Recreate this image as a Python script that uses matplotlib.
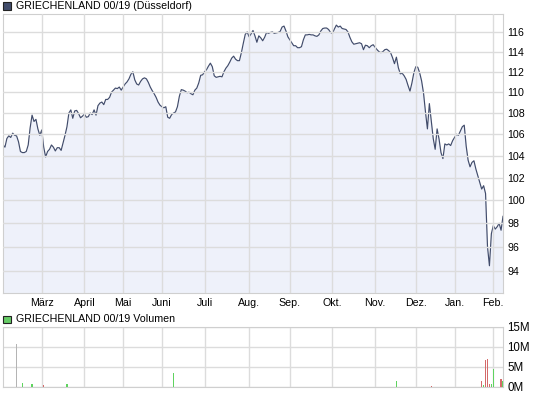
import numpy as np
import pandas as pd
import matplotlib
matplotlib.use("Agg")
import matplotlib.pyplot as plt
from matplotlib.patches import Rectangle
from matplotlib.ticker import FixedLocator, FixedFormatter, NullLocator

# trading days of the exchange (weekdays without the holidays)
holidays = ['2009-04-10', '2009-04-13', '2009-05-01', '2009-12-24',
            '2009-12-25', '2009-12-31', '2010-01-01']
days = pd.bdate_range('2009-02-02', '2010-02-08')
days = days[~days.isin(pd.to_datetime(holidays))]

# closing prices, one per trading day
price = [
    105.0, 104.8, 105.6, 105.85, 105.7, 106.1, 105.9, 105.85, 105.3, 104.4,
    104.3, 104.3, 104.4, 105.0, 106.6, 107.8, 107.2, 107.4, 106.5, 105.9,
    106.4, 104.8, 103.9, 104.4, 104.6, 105.0, 104.8, 104.45, 104.75, 104.75,
    104.5, 105.2, 105.9, 106.7, 108.0, 108.3, 107.5, 108.2, 108.25, 107.95,
    107.55, 107.7, 107.9, 107.6, 107.65, 108.0, 107.85, 108.3, 107.8, 108.7,
    108.95, 109.05, 108.8, 109.3, 109.3, 109.5, 110.0, 110.2, 110.4, 110.35,
    110.5, 110.2, 110.5, 110.8, 111.0, 111.3, 111.75, 112.0, 111.2, 110.8,
    110.7, 111.05, 111.3, 111.4, 111.3, 110.95, 110.5, 110.15, 109.85, 109.5,
    109.05, 108.75, 108.6, 108.5, 108.6, 107.6, 107.5, 107.85, 108.0, 108.1,
    108.6, 109.6, 110.25, 110.2, 110.1, 109.95, 110.0, 109.85, 109.75, 110.2,
    110.4, 110.9, 111.65, 111.7, 112.0, 112.2, 112.55, 112.85, 112.5, 111.6,
    111.45, 111.5, 111.55, 111.5, 112.0, 112.35, 112.6, 112.95, 113.35, 113.55,
    113.25, 113.1, 113.1, 113.9, 114.85, 115.75, 116.0, 115.5, 115.8, 116.15,
    115.6, 114.95, 115.6, 115.4, 115.1, 115.45, 115.95, 115.85, 115.95, 116.0,
    115.85, 115.9, 115.95, 116.05, 116.5, 116.6, 116.1, 115.5, 115.2, 114.9,
    114.6, 114.6, 114.4, 114.4, 114.5, 115.2, 115.7, 115.7, 115.75, 115.7,
    115.7, 115.6, 115.55, 115.7, 116.1, 116.35, 116.4, 116.4, 116.25, 115.95,
    115.85, 116.3, 116.7, 116.5, 116.6, 116.35, 116.3, 116.25, 116.0, 115.45,
    115.0, 114.75, 114.8, 114.85, 114.9, 114.8, 114.2, 114.65, 114.6, 114.4,
    114.6, 114.7, 114.45, 114.2, 114.0, 113.9, 114.0, 114.2, 114.25, 114.1,
    113.9, 113.4, 112.8, 113.45, 112.4, 111.8, 111.85, 111.6, 111.25, 110.65,
    110.1, 110.9, 111.9, 112.5, 112.45, 111.9, 111.1, 109.9, 108.1, 106.5,
    108.9, 107.2, 105.6, 104.6, 106.5, 105.55, 104.3, 103.75, 105.1, 105.0,
    105.1, 104.95, 105.4, 105.7, 106.0, 105.9, 106.3, 106.7, 106.85, 104.9,
    103.6, 103.0, 103.4, 103.55, 102.8, 102.2, 101.6, 101.0, 101.3, 100.6,
    96.0, 94.4, 97.1, 97.8, 97.5, 97.7, 98.0, 97.4, 98.6,
]

# traded volume (only days with turnover), in millions
vol_dates = ['2009-02-11', '2009-02-16', '2009-02-23', '2009-03-03', '2009-03-19',
             '2009-06-09', '2009-11-17', '2009-12-11', '2010-01-22', '2010-01-25',
             '2010-01-26', '2010-01-27', '2010-01-28', '2010-01-29', '2010-02-01',
             '2010-02-05', '2010-02-08']
vol_values = [10.7, 0.9, 0.7, 0.3, 0.7, 3.5, 1.3, 0.2, 1.5, 0.5,
              6.6, 6.9, 0.7, 0.7, 4.4, 2.0, 1.5]
vol_dir = ['flat', 'up', 'up', 'down', 'up', 'up', 'up', 'down', 'down', 'up',
           'down', 'down', 'down', 'up', 'up', 'down', 'up']

month_names = ['März', 'April', 'Mai', 'Juni', 'Juli', 'Aug.', 'Sep.', 'Okt.',
               'Nov.', 'Dez.', 'Jan.', 'Feb.']
price_ticks = [94, 96, 98, 100, 102, 104, 106, 108, 110, 112, 114, 116]
vol_ticks = [0, 5, 10, 15]

x = np.arange(len(days))
months = pd.Series(days.to_period('M'))
month_starts = [i for i in range(1, len(days)) if months[i] != months[i - 1]]

LINE = '#414c6b'
FILL = '#eef1fa'
GRID = '#dcdcdc'
EDGE = '#cfcfcf'
FONT = ['Liberation Sans', 'DejaVu Sans']
FS = 7.7

fig = plt.figure(figsize=(5.45, 3.95), dpi=100)
W, H = 545.0, 395.0
ax = fig.add_axes([3 / W, 1 - 292.5 / H, 500 / W, 279 / H])
axv = fig.add_axes([3 / W, 1 - 386.5 / H, 500 / W, 60 / H])

# price panel
ax.set_yscale('log')
ylo, yhi = 92.2, 117.9
ax.fill_between(x, price, ylo, color=FILL, lw=0)
ax.plot(x, price, color=LINE, lw=0.85)
ax.set_xlim(0, len(days) - 1)
ax.set_ylim(ylo, yhi)
ax.yaxis.set_major_locator(FixedLocator(price_ticks))
ax.yaxis.set_major_formatter(FixedFormatter([str(t) for t in price_ticks]))
ax.yaxis.set_minor_locator(NullLocator())
ax.xaxis.set_major_locator(FixedLocator(month_starts))
ax.set_xticklabels(month_names)
ax.yaxis.tick_right()
ax.tick_params(axis='both', length=0, labelsize=FS, colors='black')
ax.tick_params(axis='y', pad=3)
ax.tick_params(axis='x', pad=4)
ax.grid(True, color=GRID, lw=1.0)
ax.set_axisbelow(False)
for s in ax.spines.values():
    s.set_color(EDGE)
for lab in ax.get_xticklabels() + ax.get_yticklabels():
    lab.set_family(FONT)

# volume panel
colors = {'up': '#5fd35f', 'down': '#d46a6a', 'flat': '#b4b4b4'}
vx = [days.get_loc(pd.Timestamp(d)) for d in vol_dates]
axv.bar(vx, vol_values, width=0.75, color=[colors[d] for d in vol_dir], lw=0,
        zorder=3, antialiased=False)
axv.set_xlim(0, len(days) - 1)
axv.set_ylim(0, 15)
axv.yaxis.set_major_locator(FixedLocator(vol_ticks))
axv.yaxis.set_major_formatter(FixedFormatter([f'{t}M' for t in vol_ticks]))
axv.xaxis.set_major_locator(FixedLocator(month_starts))
axv.set_xticklabels([])
axv.yaxis.tick_right()
axv.tick_params(axis='both', length=0, labelsize=FS + 0.6, colors='black')
axv.tick_params(axis='y', pad=3)
axv.grid(True, color=GRID, lw=1.0, zorder=0)
axv.set_axisbelow(True)
for s in axv.spines.values():
    s.set_color(EDGE)
for lab in axv.get_yticklabels():
    lab.set_family(FONT)

# headers with colour squares
fig.patches.append(Rectangle((3 / W, 1 - 9.5 / H), 7.5 / W, 7.5 / H, transform=fig.transFigure,
                             facecolor=LINE, edgecolor='#222222', lw=0.8))
fig.text(16 / W, 1 - 6 / H, 'GRIECHENLAND 00/19 (Düsseldorf)', fontsize=FS,
         family=FONT, va='center', ha='left')
fig.patches.append(Rectangle((3 / W, 1 - 323 / H), 7.5 / W, 7.5 / H, transform=fig.transFigure,
                             facecolor='#66cc66', edgecolor='#222222', lw=0.8))
fig.text(16 / W, 1 - 319.5 / H, 'GRIECHENLAND 00/19 Volumen', fontsize=FS,
         family=FONT, va='center', ha='left')

fig.savefig('out.png', dpi=100, facecolor='white')
